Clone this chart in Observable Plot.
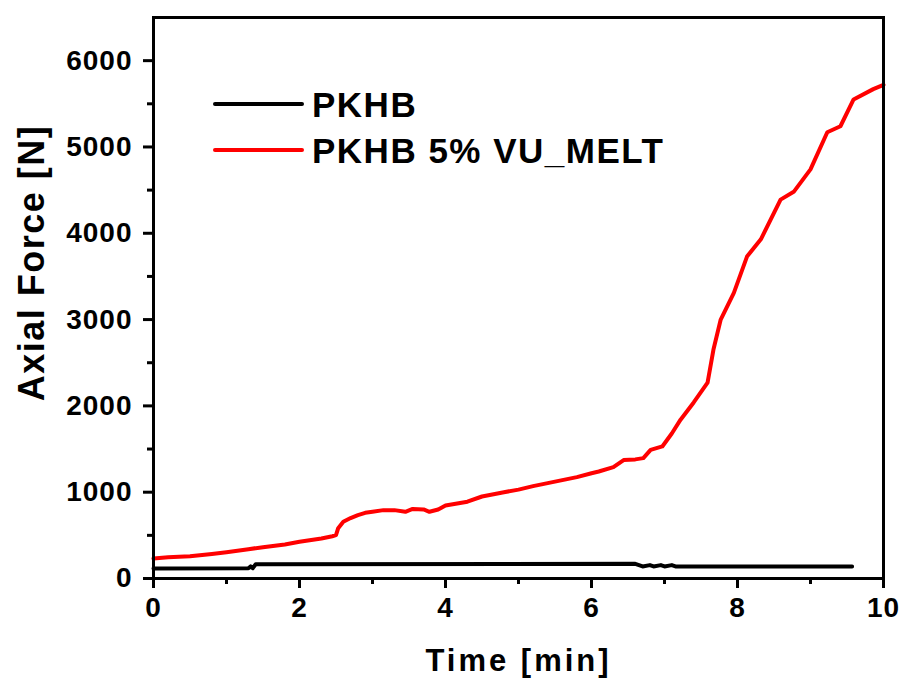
<!DOCTYPE html>
<html>
<head>
<meta charset="utf-8">
<script src="https://cdn.jsdelivr.net/npm/d3@7"></script>
<script src="https://cdn.jsdelivr.net/npm/@observablehq/plot@0.6"></script>
<style>
  html, body { margin: 0; padding: 0; background: #fff; }
  svg { font-family: "Liberation Sans", Arial, sans-serif; }
</style>
</head>
<body>
<div id="chart"></div>
<script>
// Series: PKHB (black)
const pkhbTime  = [0, 1.30, 1.33, 1.36, 1.40, 6.60, 6.70, 6.80, 6.85, 6.95, 7.00, 7.10, 7.15, 7.25, 9.57];
const pkhbForce = [115, 118, 140, 120, 165, 170, 140, 155, 140, 155, 140, 155, 140, 140, 140];

// Series: PKHB 5% VU_MELT (red)
const meltTime  = [0, 0.2, 0.5, 0.8, 1.0, 1.3, 1.5, 1.8, 2.0, 2.3, 2.45, 2.5, 2.53, 2.6, 2.7, 2.8, 2.9, 3.0, 3.15, 3.3, 3.45, 3.55, 3.7, 3.78, 3.9, 4.0, 4.3, 4.5, 4.8, 5.0, 5.2, 5.4, 5.6, 5.8, 6.0, 6.1, 6.3, 6.44, 6.6, 6.71, 6.81, 6.97, 7.1, 7.22, 7.4, 7.59, 7.67, 7.77, 7.95, 8.13, 8.32, 8.59, 8.77, 9.0, 9.23, 9.41, 9.59, 9.86, 10.0];
const meltForce = [232, 245, 259, 285, 305, 340, 363, 395, 425, 464, 490, 502, 583, 657, 700, 734, 761, 773, 792, 792, 773, 806, 800, 773, 800, 845, 890, 950, 1000, 1030, 1070, 1105, 1140, 1175, 1220, 1240, 1290, 1372, 1380, 1395, 1490, 1530, 1680, 1840, 2040, 2270, 2650, 3000, 3310, 3730, 3930, 4390, 4480, 4740, 5170, 5240, 5550, 5670, 5720];

// Axes
const xMajorTicks = [0, 2, 4, 6, 8, 10];
const xMinorTicks = [1, 3, 5, 7, 9];
const yMajorTicks = [0, 1000, 2000, 3000, 4000, 5000, 6000];
const yMinorTicks = [500, 1500, 2500, 3500, 4500, 5500];
const xTitle = "Time [min]";
const yTitle = "Axial Force [N]";

// Legend
const legendLabels = ["PKHB", "PKHB 5% VU_MELT"];
const legendColors = ["#000000", "#ff0000"];

(function () {
  const pkhb = pkhbTime.map((t, i) => ({t, f: pkhbForce[i]}));
  const melt = meltTime.map((t, i) => ({t, f: meltForce[i]}));

  const tickFont = {fontSize: 28, fontWeight: "bold", fill: "black", textStroke: "none"};

  const plot = Plot.plot({
    width: 903,
    height: 679,
    marginLeft: 153,
    marginRight: 20,
    marginTop: 17,
    marginBottom: 101,
    style: {fontFamily: "'Liberation Sans', Arial, sans-serif", background: "white", overflow: "visible"},
    x: {domain: [0, 10]},
    y: {domain: [0, 6500]},
    marks: [
      Plot.line(pkhb, {x: "t", y: "f", stroke: legendColors[0], strokeWidth: 4}),
      Plot.line(melt, {x: "t", y: "f", stroke: legendColors[1], strokeWidth: 4}),
      Plot.axisX({ticks: xMajorTicks, tickSize: 10, tickPadding: 9, strokeWidth: 3, label: null, ...tickFont, tickFormat: d => String(d)}),
      Plot.axisX({ticks: xMinorTicks, tickSize: 6, strokeWidth: 3, label: null, text: null}),
      Plot.axisY({ticks: yMajorTicks, tickSize: 10, tickPadding: 11, strokeWidth: 3, label: null, ...tickFont, tickFormat: d => String(d)}),
      Plot.axisY({ticks: yMinorTicks, tickSize: 6, strokeWidth: 3, label: null, text: null}),
      Plot.frame({stroke: "black", strokeWidth: 3}),
      Plot.text([xTitle], {frameAnchor: "bottom", textAnchor: "middle", lineAnchor: "bottom", dy: 92, fontSize: 31, fontWeight: "bold", fill: "black"}),
      Plot.text([yTitle], {frameAnchor: "left", textAnchor: "middle", lineAnchor: "middle", rotate: -90, dx: -121, dy: -35, fontSize: 36, fontWeight: "bold", fill: "black"})
    ]
  });

  const svg = d3.select(plot);
  svg.selectAll("text").filter(function () { return this.textContent === xTitle; }).attr("letter-spacing", "3px");
  svg.selectAll("text").filter(function () { return this.textContent === yTitle; }).attr("letter-spacing", "1.5px");
  svg.selectAll("g[aria-label='y-axis tick label'] text, g[aria-label='x-axis tick label'] text").attr("letter-spacing", "1px");

  // Legend placed with the plot's scales
  const sx = plot.scale("x"), sy = plot.scale("y");
  const lg = svg.append("g").attr("aria-label", "legend").attr("text-anchor", "start");
  const x0 = sx.apply(0), y0 = sy.apply(6500);
  legendLabels.forEach((lab, i) => {
    const yy = y0 + 87 + i * 46;
    lg.append("line").attr("x1", x0 + 62).attr("x2", x0 + 149).attr("y1", yy).attr("y2", yy)
      .attr("stroke", legendColors[i]).attr("stroke-width", 4).attr("stroke-linecap", "round");
    lg.append("text").attr("x", x0 + 159).attr("y", yy + 13)
      .attr("text-anchor", "start")
      .attr("font-size", 35).attr("font-weight", "bold").attr("fill", "black")
      .attr("letter-spacing", "1.5px").text(lab);
  });

  document.getElementById("chart").appendChild(plot);
})();
</script>
</body>
</html>
